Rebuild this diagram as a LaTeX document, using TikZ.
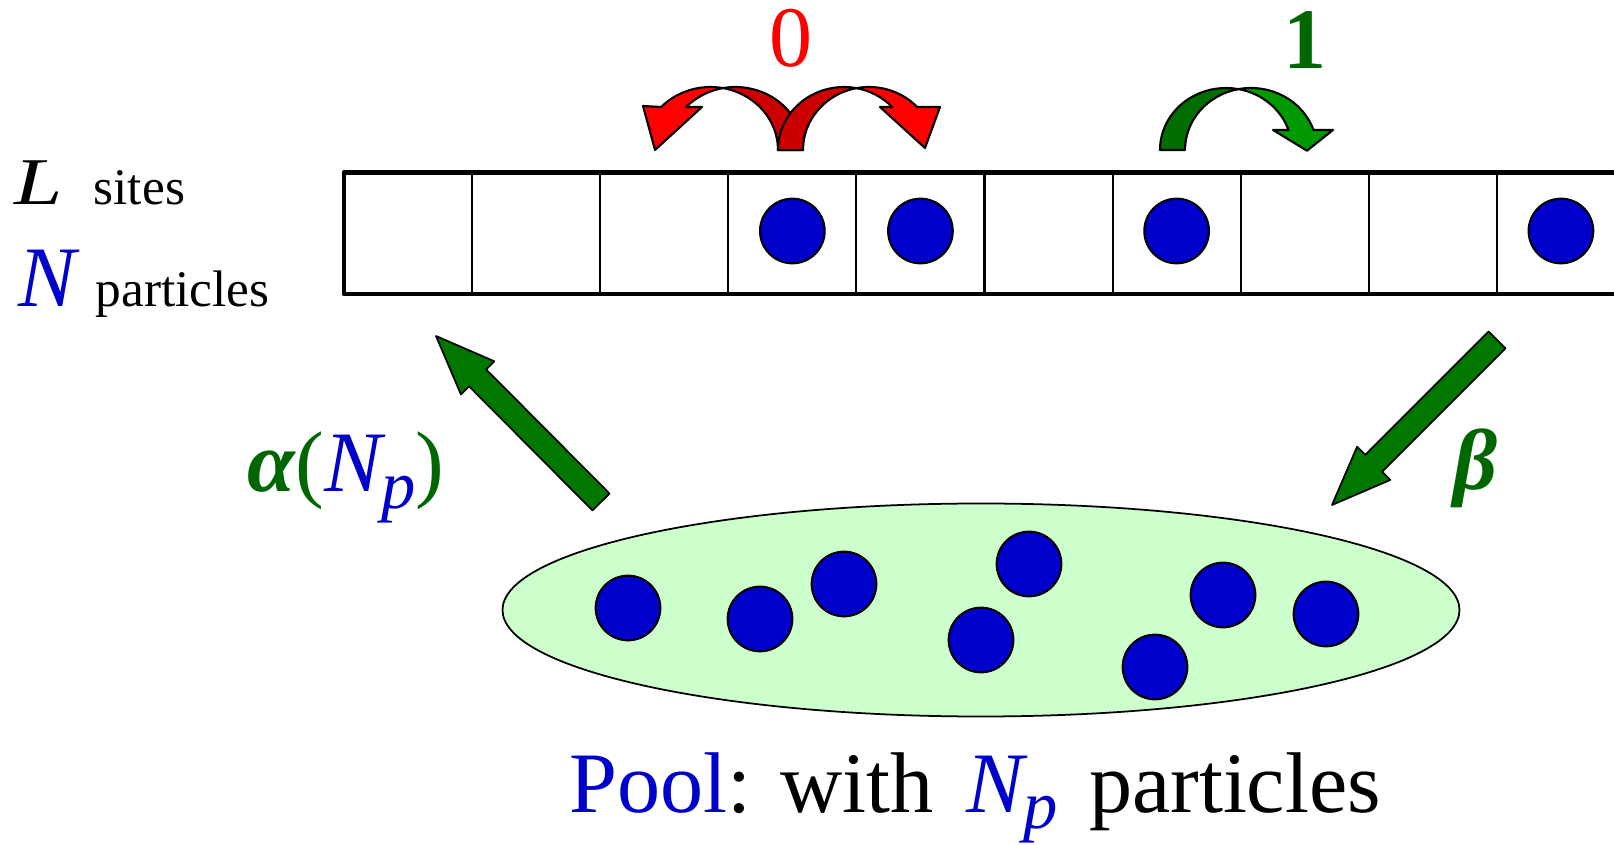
\documentclass[tikz,border=0pt]{standalone}
\usepackage{fontspec}
\setmainfont{Liberation Serif}
\usetikzlibrary{calc}

\definecolor{partblue}{RGB}{0,0,204}
\definecolor{poolgreen}{RGB}{204,255,204}
\definecolor{arrowgreen}{RGB}{0,120,0}
\definecolor{labelgreen}{RGB}{0,102,0}
\definecolor{hopdarkgreen}{RGB}{0,110,0}
\definecolor{hoplightgreen}{RGB}{0,153,0}
\definecolor{hopdarkred}{RGB}{204,0,0}
\definecolor{hoplightred}{RGB}{255,0,0}

% N with subscript p, in text italics
\newcommand{\Np}{{\itshape N\raisebox{-0.16cm}{\fontsize{19.5}{21}\selectfont p}}}

% fat straight arrow, tail -> tip
\newcommand{\blockarrow}[2]{%
  \coordinate (hb) at ($(#2)!0.59cm!(#1)$);
  \filldraw[fill=arrowgreen, line width=0.5pt]
    ($(#1)!0.12cm!90:(#2)$) -- ($(hb)!0.12cm!-90:(#1)$) -- ($(hb)!0.235cm!-90:(#1)$)
    -- (#2) -- ($(hb)!0.235cm!90:(#1)$) -- ($(hb)!0.12cm!90:(#1)$)
    -- ($(#1)!0.12cm!-90:(#2)$) -- cycle;}

\begin{document}
\begin{tikzpicture}[x=0.01cm, y=0.01cm, line join=round,
    particle/.style={circle, draw=black, fill=partblue, line width=0.6pt, minimum size=0.646cm, inner sep=0pt},
    hoparrow/.style={draw=black, line width=0.6pt},
    bigtext/.style={inner sep=0pt, font=\fontsize{24.5}{28}\selectfont},
    smalltext/.style={inner sep=0pt, font=\fontsize{14.6}{17}\selectfont}]
  \useasboundingbox (0,0) rectangle (1614,845);

  % lattice
  \foreach \i in {1,...,9}
    \draw[line width=0.6pt] ({344+128.1*\i},551) -- ({344+128.1*\i},672.5);
  \draw[line width=1.4pt] (1614,672.5) -- (344,672.5) -- (344,551) -- (1614,551);
  \foreach \i/\name in {3/siteA,4/siteB,6/siteC,9/siteD}
    \node[particle] (\name) at ({344+128.1*(\i+0.5)},614) {};

  % left texts
  \node[inner sep=0pt, font=\fontsize{19}{22}\selectfont, anchor=base west, xscale=1.3] (Llabel) at (14,640) {\itshape L};
  \node[smalltext, anchor=base west] (sites) at (93,640) {sites};
  \node[bigtext, anchor=base west, text=partblue] (Nlabel) at (18,538) {\itshape N};
  \node[smalltext, anchor=base west] (particles) at (95,538) {particles};

  % hops with rate 0
  \filldraw[hoparrow, fill=hopdarkred] (803,695) arc[start angle=0, end angle=100.67, x radius=67.5, y radius=63]
    arc[start angle=79.33, end angle=0, x radius=67.5, y radius=63] -- cycle;
  \filldraw[hoparrow, fill=hoplightred] (686.2,738) arc[start angle=136.96, end angle=100.67, x radius=67.5, y radius=63]
    arc[start angle=79.33, end angle=136.96, x radius=67.5, y radius=63] -- (643,739) -- (655,695) -- (702,738) -- cycle;
  \filldraw[hoparrow, fill=hopdarkred] (778,695) arc[start angle=180, end angle=79.08, x radius=66, y radius=63]
    arc[start angle=100.92, end angle=180, x radius=66, y radius=63] -- cycle;
  \filldraw[hoparrow, fill=hoplightred] (892.2,738) arc[start angle=43.04, end angle=79.08, x radius=66, y radius=63]
    arc[start angle=100.92, end angle=43.04, x radius=66, y radius=63] -- (940,738) -- (925,697) -- (880,738) -- cycle;
  \node[bigtext, text=hoplightred] (rate0) at (791,807) {0};

  % hop with rate 1
  \filldraw[hoparrow, fill=hopdarkgreen] (1160,695) arc[start angle=180, end angle=79.08, x radius=66, y radius=62]
    arc[start angle=100.92, end angle=180, x radius=66, y radius=62] -- cycle;
  \filldraw[hoparrow, fill=hoplightgreen] (1288.5,715) arc[start angle=18.82, end angle=79.08, x radius=66, y radius=62]
    arc[start angle=100.92, end angle=18.82, x radius=66, y radius=62] -- (1333,715) -- (1307,694.3) -- (1273,715) -- cycle;
  \node[bigtext, text=labelgreen] (rate1) at (1305,805) {\bfseries 1};

  % pool
  \draw[fill=poolgreen, line width=0.5pt] (981,235) ellipse [x radius=478.5, y radius=106.5];
  \foreach \x/\y [count=\k] in {628/237, 760/226, 844/261, 1029/281, 981/205, 1155/178, 1223/250, 1326/231}
    \node[particle] (pool\k) at (\x,\y) {};
  \node[bigtext, anchor=base west] (poolText) at (569,32.5)
    {\textcolor{partblue}{Pool}: with\hspace{0.38em}\textcolor{partblue}{\Np}\hspace{0.36em}particles};

  % in and out of the pool
  \coordinate (alphaTail) at (601,343);
  \coordinate (alphaTip) at (436,509);
  \coordinate (betaTail) at (1497,505);
  \coordinate (betaTip) at (1332,340);
  \blockarrow{alphaTail}{alphaTip}
  \blockarrow{betaTail}{betaTip}
  \node[bigtext, anchor=base west] (alpha) at (247,353)
    {\textcolor{labelgreen}{\bfseries\itshape α}\textcolor{labelgreen}{(}\textcolor{partblue}{\Np}\textcolor{labelgreen}{)}};
  \node[bigtext, anchor=base, text=labelgreen] (beta) at (1476,355.5) {\bfseries\itshape β};
\end{tikzpicture}
\end{document}
